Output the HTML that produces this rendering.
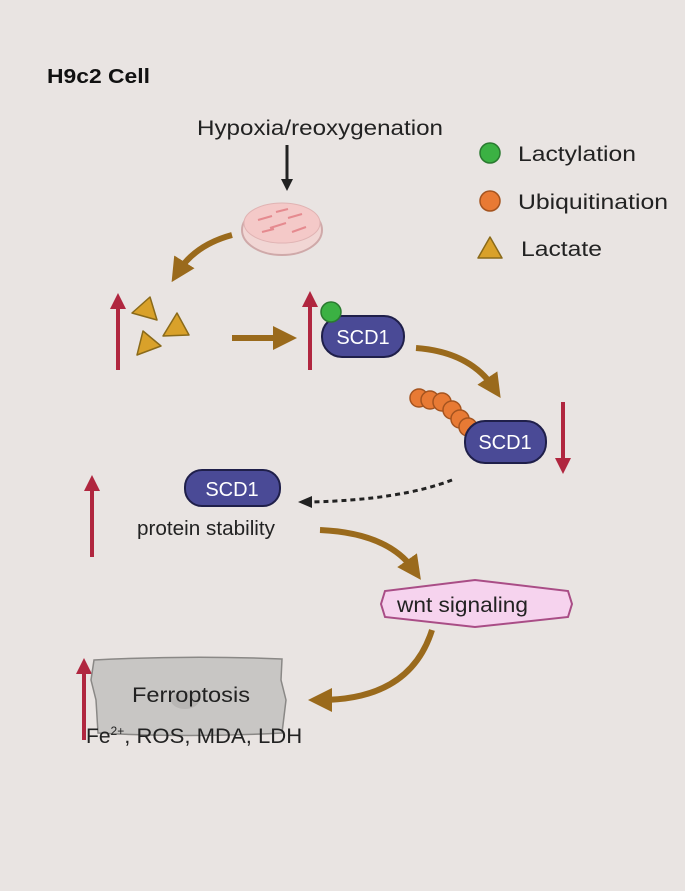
<!DOCTYPE html>
<html><head><meta charset="utf-8"><style>
body{margin:0;background:#e9e4e2;}
svg{display:block;font-family:"Liberation Sans",sans-serif;}
</style></head><body>
<svg width="685" height="891" viewBox="0 0 685 891">
<defs>
<marker id="bh" markerWidth="4" markerHeight="4" refX="2" refY="2" orient="auto" markerUnits="strokeWidth"><path d="M0,0 L4,2 L0,4 z" fill="#9a6a1c"/></marker>
<marker id="rh" markerWidth="4" markerHeight="4" refX="1" refY="2" orient="auto" markerUnits="strokeWidth"><path d="M0,0 L4,2 L0,4 z" fill="#b0263f"/></marker>
<marker id="kh" markerWidth="4" markerHeight="4" refX="1" refY="2" orient="auto" markerUnits="strokeWidth"><path d="M0,0 L4,2 L0,4 z" fill="#222"/></marker>
</defs>
<rect width="685" height="891" fill="#e9e4e2"/>
<text x="47" y="83" font-size="20" font-weight="bold" fill="#111" textLength="103" lengthAdjust="spacingAndGlyphs">H9c2 Cell</text>
<text x="197" y="135" font-size="21" fill="#222" textLength="246" lengthAdjust="spacingAndGlyphs">Hypoxia/reoxygenation</text>
<line x1="287" y1="145" x2="287" y2="182" stroke="#222" stroke-width="3" marker-end="url(#kh)"/>
<ellipse cx="282" cy="230" rx="40" ry="25" fill="#f1d6d4" stroke="#cfa9a9" stroke-width="2"/>
<ellipse cx="282" cy="223" rx="38" ry="20" fill="#f4c9c8" stroke="#e0b3b3"/>
<path d="M258,220 l14,-4 M270,228 l16,-5 M288,218 l14,-4 M262,232 l12,-3 M292,232 l14,-5 M276,212 l12,-3" stroke="#e58a8f" stroke-width="2"/>
<circle cx="490" cy="153" r="10" fill="#3bb143" stroke="#2a7a30" stroke-width="1.5"/>
<text x="518" y="161" font-size="21" fill="#222" textLength="118" lengthAdjust="spacingAndGlyphs">Lactylation</text>
<circle cx="490" cy="201" r="10" fill="#e87a34" stroke="#a5541f" stroke-width="1.5"/>
<text x="518" y="209" font-size="21" fill="#222" textLength="150" lengthAdjust="spacingAndGlyphs">Ubiquitination</text>
<path d="M490,237 L502,258 L478,258 z" fill="#d9a12a" stroke="#8a6a1a" stroke-width="1.5" stroke-linejoin="round"/>
<text x="521" y="256" font-size="21" fill="#222" textLength="81" lengthAdjust="spacingAndGlyphs">Lactate</text>
<path d="M232,235 Q195,245 178,272" fill="none" stroke="#9a6a1c" stroke-width="6" marker-end="url(#bh)"/>
<line x1="118" y1="370" x2="118" y2="305" stroke="#b0263f" stroke-width="4" marker-end="url(#rh)"/>
<line x1="310" y1="370" x2="310" y2="303" stroke="#b0263f" stroke-width="4" marker-end="url(#rh)"/>
<line x1="92" y1="557" x2="92" y2="487" stroke="#b0263f" stroke-width="4" marker-end="url(#rh)"/>
<line x1="84" y1="740" x2="84" y2="670" stroke="#b0263f" stroke-width="4" marker-end="url(#rh)"/>
<line x1="563" y1="402" x2="563" y2="462" stroke="#b0263f" stroke-width="4" marker-end="url(#rh)"/>
<path d="M150,297 L157,320 L132,313 z" fill="#d9a12a" stroke="#8a6a1a" stroke-width="1.5" stroke-linejoin="round"/>
<path d="M177,313 L189,335 L163,336 z" fill="#d9a12a" stroke="#8a6a1a" stroke-width="1.5" stroke-linejoin="round"/>
<path d="M143,331 L161,346 L137,355 z" fill="#d9a12a" stroke="#8a6a1a" stroke-width="1.5" stroke-linejoin="round"/>
<line x1="232" y1="338" x2="285" y2="338" stroke="#9a6a1c" stroke-width="6" marker-end="url(#bh)"/>
<rect x="322" y="316" width="82" height="41" rx="20" fill="#4a4a96" stroke="#1f1f4a" stroke-width="2"/>
<text x="363" y="344" font-size="20" fill="#fff" text-anchor="middle">SCD1</text>
<circle cx="331" cy="312" r="10" fill="#3bb143" stroke="#2a7a30" stroke-width="1.5"/>
<path d="M416,348 Q470,352 494,388" fill="none" stroke="#9a6a1c" stroke-width="6" marker-end="url(#bh)"/>
<circle cx="419" cy="398" r="9" fill="#e87a34" stroke="#a5541f" stroke-width="1.5"/>
<circle cx="430" cy="400" r="9" fill="#e87a34" stroke="#a5541f" stroke-width="1.5"/>
<circle cx="442" cy="402" r="9" fill="#e87a34" stroke="#a5541f" stroke-width="1.5"/>
<circle cx="452" cy="410" r="9" fill="#e87a34" stroke="#a5541f" stroke-width="1.5"/>
<circle cx="460" cy="419" r="9" fill="#e87a34" stroke="#a5541f" stroke-width="1.5"/>
<circle cx="468" cy="427" r="9" fill="#e87a34" stroke="#a5541f" stroke-width="1.5"/>
<rect x="465" y="421" width="81" height="42" rx="20" fill="#4a4a96" stroke="#1f1f4a" stroke-width="2"/>
<text x="505" y="449" font-size="20" fill="#fff" text-anchor="middle">SCD1</text>
<path d="M452,480 Q400,500 310,502" fill="none" stroke="#222" stroke-width="3" stroke-dasharray="5,4"/>
<path d="M298,502 L312,496 L312,508 z" fill="#222"/>
<rect x="185" y="470" width="95" height="36" rx="17" fill="#4a4a96" stroke="#1f1f4a" stroke-width="2"/>
<text x="232" y="496" font-size="20" fill="#fff" text-anchor="middle">SCD1</text>
<text x="137" y="535" font-size="20" fill="#222" textLength="138" lengthAdjust="spacingAndGlyphs">protein stability</text>
<path d="M320,530 Q388,533 414,570" fill="none" stroke="#9a6a1c" stroke-width="6" marker-end="url(#bh)"/>
<path d="M381,604 L385,591 L475,580 L568,591 L572,604 L568,617 L475,627 L385,617 z" fill="#f6d3ee" stroke="#a94d86" stroke-width="2"/>
<text x="397" y="612" font-size="21" fill="#222" textLength="131" lengthAdjust="spacingAndGlyphs">wnt signaling</text>
<path d="M432,630 Q410,700 320,700" fill="none" stroke="#9a6a1c" stroke-width="6" marker-end="url(#bh)"/>
<path d="M94,660 Q190,655 282,659 L281,680 L286,700 L282,733 Q190,738 98,733 L96,700 L91,680 z" fill="#c8c6c4" stroke="#8a8886" stroke-width="1.5"/>
<ellipse cx="185" cy="700" rx="14" ry="9" fill="#b8b6b4"/>
<text x="132" y="702" font-size="21" fill="#222" textLength="118" lengthAdjust="spacingAndGlyphs">Ferroptosis</text>
<text x="86" y="743" font-size="21" fill="#222">Fe<tspan font-size="12" dy="-8">2+</tspan><tspan dy="8" textLength="178" lengthAdjust="spacingAndGlyphs">, ROS, MDA, LDH</tspan></text>
</svg>
</body></html>
